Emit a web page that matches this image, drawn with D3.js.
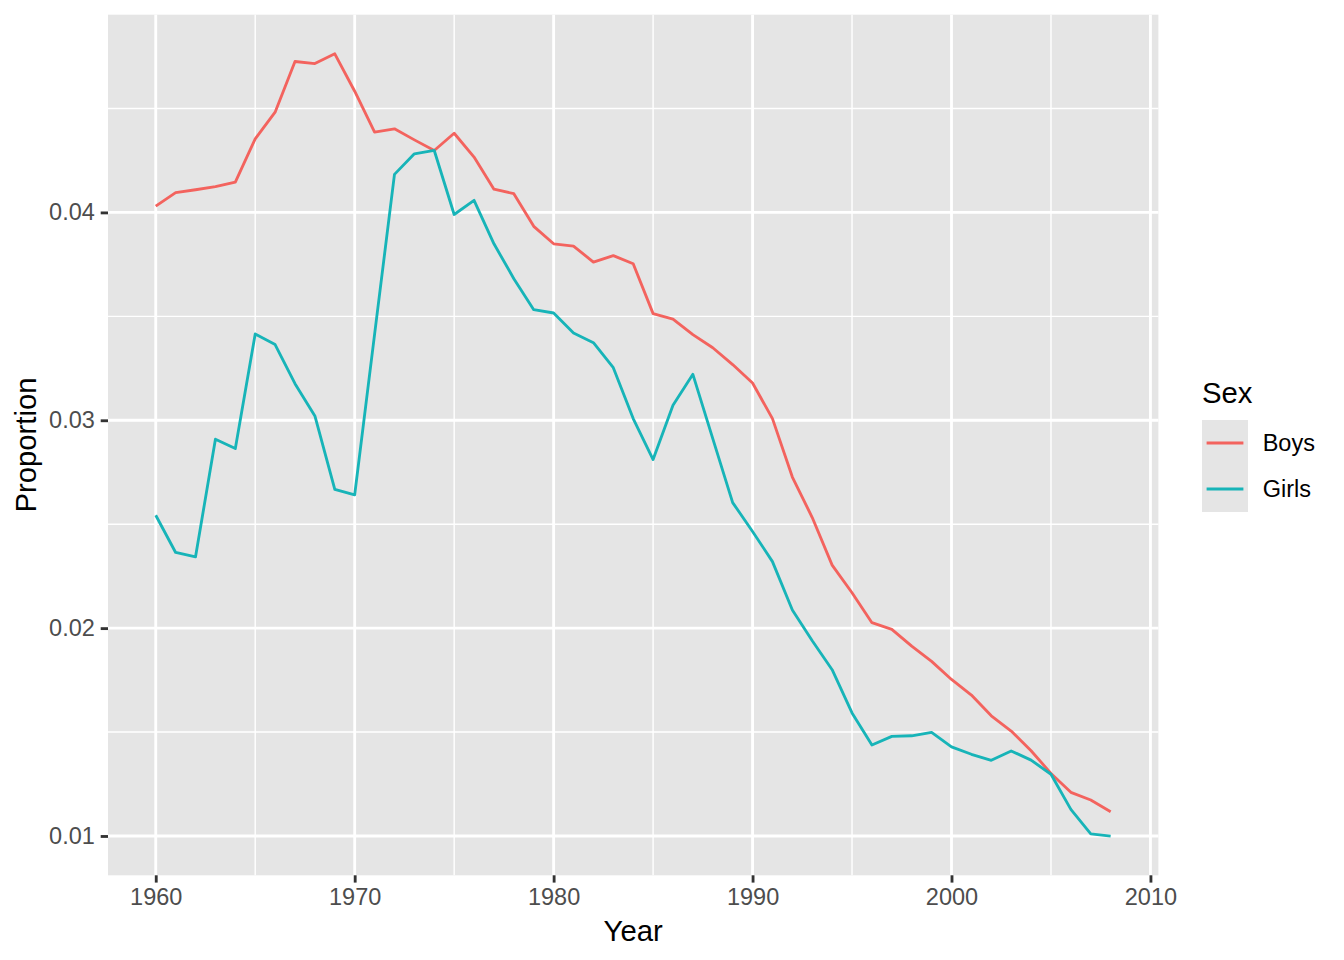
<!DOCTYPE html>
<html><head><meta charset="utf-8">
<script src="https://cdn.jsdelivr.net/npm/d3@7"></script>
<style>body{margin:0;background:#fff;}svg{display:block;font-family:"Liberation Sans",Arial,Helvetica,sans-serif;}</style>
</head><body>
<svg id="chart" width="1344" height="960"></svg>
<script>
const years = d3.range(1960, 2009);
const boys = [0.04030,0.04095,0.04109,0.04124,0.04146,0.04354,0.04482,0.04726,0.04716,0.04763,
  0.04583,0.04386,0.04402,0.04349,0.04298,0.04381,0.04266,0.04112,0.04090,0.03933,
  0.03849,0.03838,0.03761,0.03792,0.03753,0.03513,0.03487,0.03412,0.03349,0.03268,
  0.03179,0.03008,0.02727,0.02532,0.02303,0.02170,0.02026,0.01994,0.01913,0.01840,
  0.01753,0.01678,0.01578,0.01505,0.01410,0.01301,0.01210,0.01173,0.01117];
const girls = [0.02543,0.02364,0.02343,0.02909,0.02864,0.03415,0.03364,0.03176,0.03021,0.02668,
  0.02641,0.03413,0.04183,0.04282,0.04298,0.03990,0.04058,0.03849,0.03681,0.03532,
  0.03516,0.03420,0.03373,0.03253,0.03008,0.02811,0.03072,0.03221,0.02912,0.02604,
  0.02465,0.02320,0.02087,0.01939,0.01800,0.01592,0.01438,0.01479,0.01482,0.01498,
  0.01429,0.01393,0.01364,0.01409,0.01365,0.01297,0.01128,0.01010,0.00999];
const seriesNames = ["Boys","Girls"];
const seriesColors = ["#F3635E","#17B4B8"];
const xTicks = [1960,1970,1980,1990,2000,2010];
const xMinor = [1965,1975,1985,1995,2005];
const yTicks = [0.01,0.02,0.03,0.04];
const yMinor = [0.015,0.025,0.035,0.045];

const svg = d3.select("#chart");
const P = {left:108, right:1158.4, top:14.7, bottom:875.3};
const panelFill = "#E5E5E5";

const allVals = boys.concat(girls);
const yMin = d3.min(allVals), yMax = d3.max(allVals), yExp = (yMax-yMin)*0.05;
const xExp = (2008-1960)*0.05;
const x = d3.scaleLinear().domain([1960-xExp, 2008+xExp]).range([P.left, P.right]);
const y = d3.scaleLinear().domain([yMin-yExp, yMax+yExp]).range([P.bottom, P.top]);

svg.append("rect").attr("x",P.left).attr("y",P.top).attr("width",P.right-P.left).attr("height",P.bottom-P.top).attr("fill",panelFill);

const grid = svg.append("g");
grid.selectAll(".ymin").data(yMinor).join("line").attr("x1",P.left).attr("x2",P.right)
  .attr("y1",d=>y(d)).attr("y2",d=>y(d)).attr("stroke","#fff").attr("stroke-width",1.42);
grid.selectAll(".xmin").data(xMinor).join("line").attr("y1",P.top).attr("y2",P.bottom)
  .attr("x1",d=>x(d)).attr("x2",d=>x(d)).attr("stroke","#fff").attr("stroke-width",1.42);
grid.selectAll(".ymaj").data(yTicks).join("line").attr("x1",P.left).attr("x2",P.right)
  .attr("y1",d=>y(d)).attr("y2",d=>y(d)).attr("stroke","#fff").attr("stroke-width",2.84);
grid.selectAll(".xmaj").data(xTicks).join("line").attr("y1",P.top).attr("y2",P.bottom)
  .attr("x1",d=>x(d)).attr("x2",d=>x(d)).attr("stroke","#fff").attr("stroke-width",2.84);

const line = d3.line().x((d,i)=>x(years[i])).y(d=>y(d));
[boys, girls].forEach((s,k)=>{
  svg.append("path").datum(s).attr("d",line).attr("fill","none")
    .attr("stroke",seriesColors[k]).attr("stroke-width",2.84).attr("stroke-linejoin","round");
});

// axes
const xAxis = d3.axisBottom(x).tickValues(xTicks).tickSize(7.3).tickPadding(5.9).tickFormat(d3.format("d"));
const gx = svg.append("g").attr("transform",`translate(0,${P.bottom})`).call(xAxis);
gx.select(".domain").remove();
gx.selectAll(".tick line").attr("stroke","#333333").attr("stroke-width",2.84);
gx.selectAll(".tick text").attr("fill","#4D4D4D").attr("font-size","23.5px").attr("font-family","Liberation Sans, Arial, sans-serif");

const yAxis = d3.axisLeft(y).tickValues(yTicks).tickSize(7.3).tickPadding(5.9).tickFormat(d3.format(".2f"));
const gy = svg.append("g").attr("transform",`translate(${P.left},0)`).call(yAxis);
gy.select(".domain").remove();
gy.selectAll(".tick line").attr("stroke","#333333").attr("stroke-width",2.84);
gy.selectAll(".tick text").attr("fill","#4D4D4D").attr("font-size","23.5px").attr("font-family","Liberation Sans, Arial, sans-serif");

svg.append("text").attr("x",(P.left+P.right)/2).attr("y",941).attr("text-anchor","middle")
  .attr("font-size","29.3px").attr("fill","#000").text("Year");
svg.append("text").attr("transform",`translate(36,${(P.top+P.bottom)/2}) rotate(-90)`).attr("text-anchor","middle")
  .attr("font-size","29.3px").attr("fill","#000").text("Proportion");

// legend
const L = {x:1202, y:420, key:46};
svg.append("text").attr("x",L.x).attr("y",403).attr("font-size","29.3px").attr("fill","#000").text("Sex");
const lg = svg.append("g");
seriesNames.forEach((n,i)=>{
  const ky = L.y + i*L.key;
  lg.append("rect").attr("x",L.x).attr("y",ky).attr("width",L.key).attr("height",L.key).attr("fill",panelFill);
  lg.append("line").attr("x1",L.x+4.6).attr("x2",L.x+L.key-4.6).attr("y1",ky+L.key/2).attr("y2",ky+L.key/2)
    .attr("stroke",seriesColors[i]).attr("stroke-width",2.84);
  lg.append("text").attr("x",L.x+L.key+14.7).attr("y",ky+L.key/2).attr("dy","0.35em")
    .attr("font-size","23.5px").attr("fill","#000").text(n);
});
</script>
</body></html>
